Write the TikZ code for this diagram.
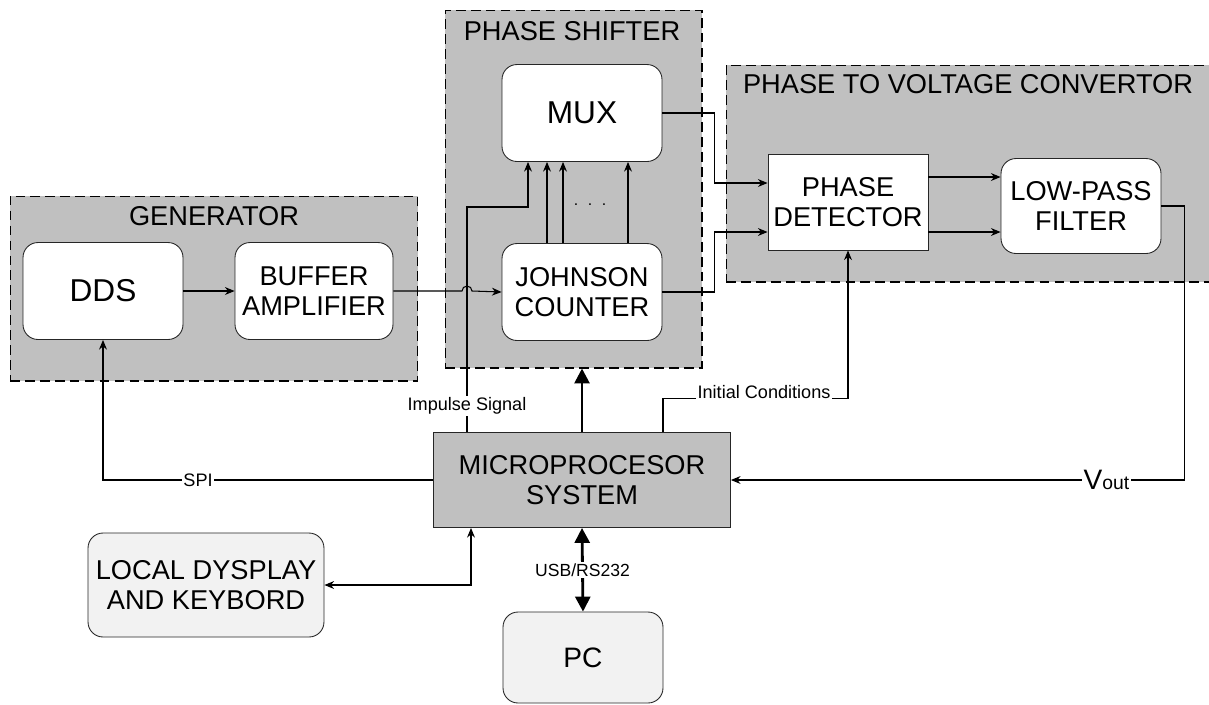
\documentclass[tikz,border=0pt]{standalone}
\usepackage{fontspec}
\setmainfont{Liberation Sans}
\usetikzlibrary{arrows.meta,calc}
\definecolor{groupgray}{HTML}{C0C0C0}
\definecolor{lightgray}{HTML}{F2F2F2}

\begin{document}
\begin{tikzpicture}[x=0.02cm,y=-0.02cm,
		group/.style={draw,dash pattern=on 5.5pt off 3pt,fill=groupgray,line width=0.6pt,inner sep=0pt},
		block/.style={draw=black!85,line width=0.5pt,rounded corners=0.3cm,fill=white,align=center,
			minimum width=3.2cm,minimum height=1.94cm,inner sep=0pt,font=\fontsize{15.5}{17}\selectfont},
		big/.style={font=\fontsize{18}{20}\selectfont},
		title/.style={font=\fontsize{15.5}{17}\selectfont},
		sig/.style={-{Stealth[length=5.5pt,width=4.5pt]},line width=0.6pt},
		both/.style={{Stealth[length=5.5pt,width=4.5pt]}-{Stealth[length=5.5pt,width=4.5pt]},line width=0.6pt},
		bus/.style={-{Triangle[length=8.5pt,width=8.5pt]},line width=1.6pt},
		lbl/.style={fill=white,inner sep=1pt,font=\fontsize{10.3}{12}\selectfont}]
	\useasboundingbox (0,0) rectangle (1209,704);

	% groups
	\node[group,minimum width=8.16cm,minimum height=3.7cm] (gen) at (214,288.5) {};
	\node[group,minimum width=5.14cm,minimum height=7.16cm] (ps) at (573.5,189) {};
	\node[group,minimum width=9.78cm,minimum height=4.34cm] (pvc) at (970.5,173.5) {};
	\node[title] (gentitle) at (214,216) {GENERATOR};
	\node[title] (pstitle) at (572,31) {PHASE SHIFTER};
	\node[title] (pvctitle) at (968,84) {PHASE TO VOLTAGE CONVERTOR};

	% blocks
	\node[block,big] (dds) at (103,291) {DDS};
	\node[block,minimum width=3.16cm] (buf) at (314,291) {BUFFER\\AMPLIFIER};
	\node[block,big] (mux) at (582,113) {MUX};
	\node[block] (jc) at (582,292) {JOHNSON\\COUNTER};
	\node[block,rounded corners=0pt,minimum height=1.92cm] (pd) at (848,202) {PHASE\\DETECTOR};
	\node[block,minimum height=1.9cm] (lpf) at (1081,206) {LOW-PASS\\FILTER};
	\node[block,rounded corners=0pt,fill=groupgray,minimum width=5.94cm,minimum height=1.9cm] (mcu) at (582,480) {MICROPROCESOR\\SYSTEM};
	\node[block,fill=lightgray,minimum width=4.72cm,minimum height=2.08cm] (lcd) at (206,585) {LOCAL DYSPLAY\\AND KEYBORD};
	\node[block,fill=lightgray,minimum height=1.82cm,font=\fontsize{16}{18}\selectfont] (pc) at (583,657.5) {PC};

	\coordinate (imp) at (467,207);
	\node[inner sep=0pt,font=\fontsize{9}{10}\selectfont] (dots) at (590,205) {.\hspace{5.5pt}.\hspace{5.5pt}.};

	% signals
	\draw[sig] (dds) -- (buf);
	\draw[sig] (mcu.north -| imp) -- node[lbl,pos=0.115]{Impulse Signal} (imp) -| ($(mux.south)+(-54,0)$);
	\draw[sig] (buf.east) -- ($(imp |- buf.east)+(-5,0)$) arc(180:360:5) -- (jc.west);
	\foreach \dx in {-35,-19,46}
		\draw[sig] ($(jc.north)+(\dx,0)$) -- ($(mux.south)+(\dx,0)$);
	\draw[sig] (mux.east) -| ($(pd.west)+(-53,-19)$) -- ($(pd.west)+(0,-19)$);
	\draw[sig] (jc.east) -| ($(pd.west)+(-53,30)$) -- ($(pd.west)+(0,30)$);
	\draw[sig] ($(pd.east)+(0,-25)$) -- ($(lpf.west)+(0,-29)$);
	\draw[sig] ($(pd.east)+(0,30)$) -- ($(lpf.west)+(0,26)$);
	\draw[sig] (lpf.east) -- ++(23,0) |- node[lbl,pos=0.586]{{\fontsize{16}{18}\selectfont V}{\fontsize{11}{12}\selectfont out}} (mcu.east);
	\draw[sig] ($(mcu.north)+(81,0)$) |- node[lbl,pos=0.773,anchor=base]{Initial Conditions} ($(pd.south)+(0,148)$) -- (pd.south);
	\draw[sig] (mcu.west) -| node[lbl,pos=0.356]{SPI} (dds.south);
	\draw[both] ($(mcu.south)+(-111,0)$) |- (lcd.east);
	\draw[bus] (mcu.north) -- (mcu.north |- ps.south);
	\draw[bus,{Triangle[length=8.5pt,width=8.5pt]}-{Triangle[length=8.5pt,width=8.5pt]}] (mcu.south) -- node[lbl,font=\fontsize{10}{12}\selectfont]{USB/RS232} (pc.north);
\end{tikzpicture}
\end{document}
